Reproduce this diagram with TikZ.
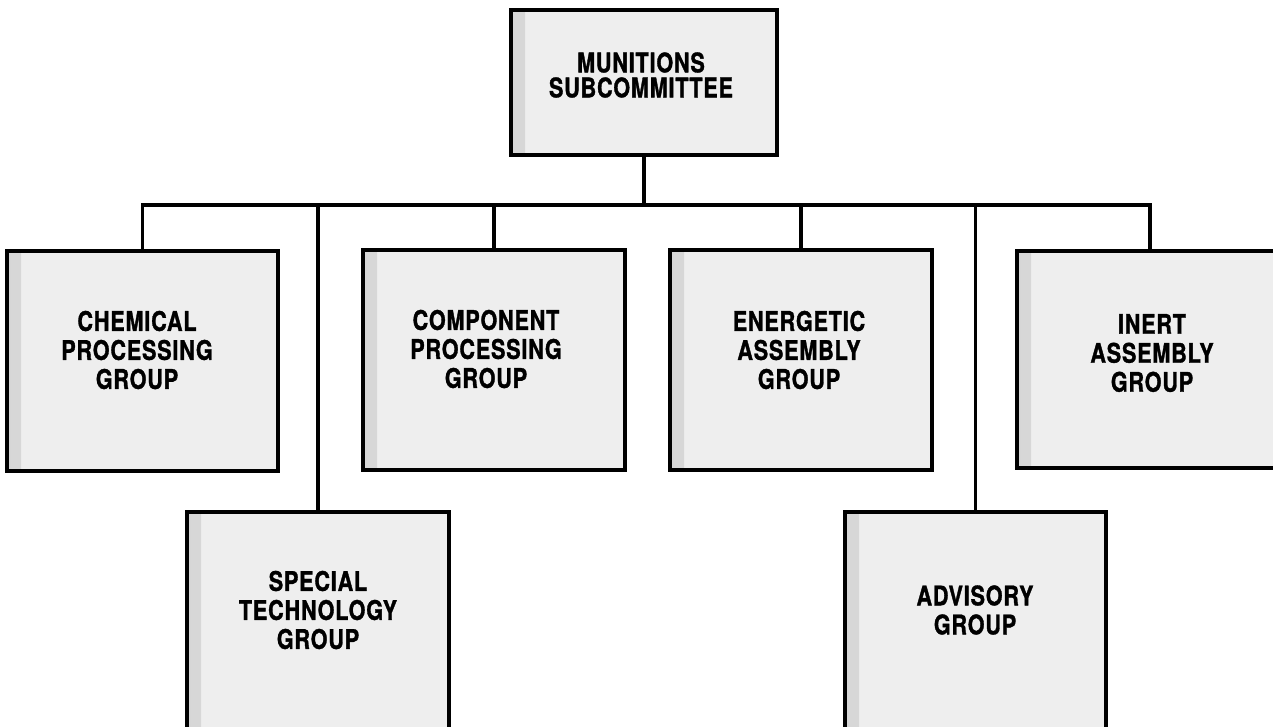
\documentclass[tikz,border=0pt]{standalone}
\usepackage{fontspec}
\newfontfamily\chartfont{TeX Gyre Heros}[FakeStretch=0.8,LetterSpace=3,
  BoldFeatures={FakeBold=1.2}]
\begin{document}
\begin{tikzpicture}[x=1pt,y=-1pt,
  orgbox/.style={draw=black,line width=3.2pt,fill=gray!13,rectangle,inner sep=0pt,
    line join=miter,
    path picture={\shade[left color=gray!32,right color=gray!13]
      (path picture bounding box.north west) rectangle
      ([xshift=14pt]path picture bounding box.south west);}},
  orgtext/.style={align=center,inner sep=0pt,
    font=\chartfont\bfseries\fontsize{27}{29}\selectfont},
  conn/.style={line width=3.2pt,line join=miter}]
\useasboundingbox (0,0) rectangle (1273,726);
\clip (0,0) rectangle (1273,726);

% boxes
\node[orgbox,minimum width=266pt,minimum height=145pt] (top)   at (644,82.5)  {};
\node[orgbox,minimum width=271pt,minimum height=220pt] (chem)  at (142.5,361) {};
\node[orgbox,minimum width=262pt,minimum height=220pt] (comp)  at (494,360)   {};
\node[orgbox,minimum width=262pt,minimum height=220pt] (ener)  at (801,360)   {};
\node[orgbox,minimum width=266pt,minimum height=217pt] (inert) at (1150,359.5){};
\node[orgbox,minimum width=262pt,minimum height=240pt] (spec)  at (318,632)   {};
\node[orgbox,minimum width=261pt,minimum height=240pt] (adv)   at (975.5,632) {};

% labels
\node[orgtext,font=\chartfont\bfseries\fontsize{27}{25}\selectfont] (topt) at (641,75)
  {MUNITIONS\\SUBCOMMITTEE};
\node[orgtext] (chemt)  at (137,350)  {CHEMICAL\\PROCESSING\\GROUP};
\node[orgtext] (compt)  at (486,349)  {COMPONENT\\PROCESSING\\GROUP};
\node[orgtext] (enert)  at (799,350)  {ENERGETIC\\ASSEMBLY\\GROUP};
\node[orgtext] (inertt) at (1152,353) {INERT\\ASSEMBLY\\GROUP};
\node[orgtext] (spect)  at (318,610)  {SPECIAL\\TECHNOLOGY\\GROUP};
\node[orgtext] (advt)   at (975,610)  {ADVISORY\\GROUP};

% connectors
\coordinate (bus) at (0,205);
\draw[conn] (top.south) -- (top.south |- bus);
\draw[conn] (chem.north) -- (chem.north |- bus) -- (inert.north |- bus) -- (inert.north);
\draw[conn] (spec.north) -- (spec.north |- bus);
\draw[conn] (comp.north) -- (comp.north |- bus);
\draw[conn] (ener.north) -- (ener.north |- bus);
\draw[conn] (adv.north) -- (adv.north |- bus);
\end{tikzpicture}
\end{document}
